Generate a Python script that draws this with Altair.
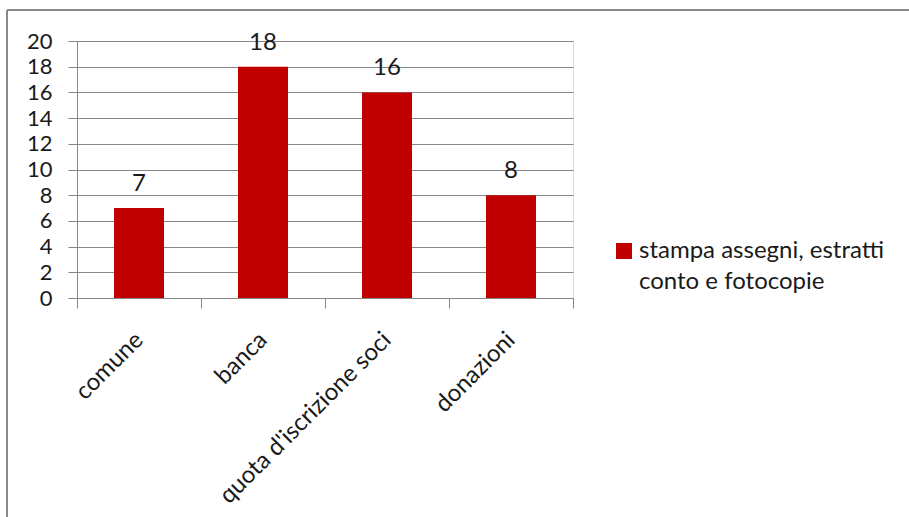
import altair as alt
import pandas as pd

categories = ["comune", "banca", "quota d'iscrizione soci", "donazioni"]
values = [7, 18, 16, 8]
series_name = "stampa assegni, estratti conto e fotocopie"
legend_lines = ["stampa assegni, estratti", "conto e fotocopie"]
y_ticks = [0, 2, 4, 6, 8, 10, 12, 14, 16, 18, 20]

df = pd.DataFrame({"categoria": categories, "valore": values, "serie": series_name})

FONT = "Lato"
FS = 24
GRID = "#868686"
TEXT = "#1a1a1a"
RED = "#C00000"

x_enc = alt.X(
    "categoria:N",
    sort=categories,
    title=None,
    scale=alt.Scale(paddingInner=0, paddingOuter=0),
    axis=alt.Axis(
        labelAngle=315,
        labelAlign="right",
        labelBaseline="middle",
        labelPadding=28,
        labelFontSize=FS,
        labelFont=FONT,
        labelColor=TEXT,
        labelLimit=400,
        tickBand="extent",
        tickSize=10,
        tickColor=GRID,
        domainColor=GRID,
        grid=False,
    ),
)

y_enc = alt.Y(
    "valore:Q",
    title=None,
    scale=alt.Scale(domain=[0, 20], nice=False),
    axis=alt.Axis(
        values=y_ticks,
        labelOverlap=False,
        labelFontSize=22,
        labelFont=FONT,
        labelColor=TEXT,
        labelPadding=16,
        tickSize=9,
        tickColor=GRID,
        domainColor=GRID,
        gridColor=GRID,
        grid=True,
    ),
)

bars = alt.Chart(df).mark_bar(color=RED, width=50).encode(
    x=x_enc,
    y=y_enc,
    color=alt.Color(
        "serie:N",
        scale=alt.Scale(range=[RED]),
        legend=alt.Legend(
            title=None,
            orient="none",
            legendX=535,
            legendY=198,
            symbolType="square",
            symbolSize=256,
            symbolStrokeWidth=0,
            symbolOpacity=1,
            labelFont=FONT,
            labelFontSize=FS,
            labelColor=TEXT,
            labelOffset=3,
            labelLimit=400,
            labelExpr="['" + legend_lines[0] + "', '" + legend_lines[1] + "']",
        ),
    ),
)

labels = alt.Chart(df).mark_text(
    font=FONT, fontSize=FS, color=TEXT, baseline="alphabetic", dy=-17
).encode(x=x_enc, y=y_enc, text="valore:Q")

# outer frame: top and left edges
frame_top = alt.Chart(df).mark_rule(color="#8a8a8a", strokeWidth=2, clip=False).encode(
    x=alt.value(-70), x2=alt.value(840), y=alt.value(-31)
)
frame_left = alt.Chart(df).mark_rule(color="#8a8a8a", strokeWidth=2, clip=False).encode(
    x=alt.value(-70), y=alt.value(-31), y2=alt.value(490)
)

chart = (
    alt.layer(frame_top, frame_left, bars, labels)
    .properties(
        width=496,
        height=257,
        padding={"left": 77, "top": 41, "right": 336, "bottom": 219},
        autosize=alt.AutoSizeParams(type="none"),
        background="white",
    )
    .configure_view(stroke=None)
    .configure(style={"guide-label": {"lineHeight": 31}})
)

chart.save("out.html", embed_options={"renderer": "svg", "actions": False})
